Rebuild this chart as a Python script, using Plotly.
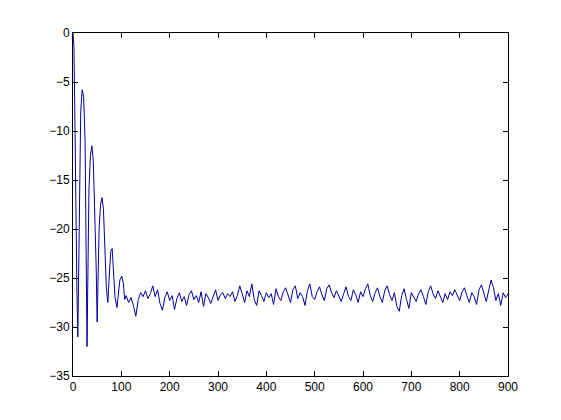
import plotly.graph_objects as go

x_main = [0, 2, 4, 6, 8, 10, 12, 14, 16, 19, 22, 25, 27, 29, 31, 33, 36, 39, 42, 45, 48, 50, 52, 54, 57, 60, 63, 66, 69, 72, 75, 78, 81, 84, 87, 91, 94, 97, 101, 104, 107, 110]
y_main = [0, -1.5, -9, -19, -26, -31, -22, -12, -8, -5.8, -6.5, -11, -20, -32, -24, -16, -12.5, -11.5, -13, -18, -24, -29.5, -25, -20, -17.5, -16.8, -18, -22, -26, -27.5, -24.5, -22.3, -22, -24, -27, -28, -26.5, -25.2, -24.8, -25.5, -27.2, -26.8]

floor_vals = [-27.5, -27.0, -27.8, -28.9, -27.2, -26.5, -26.9, -26.3, -27.1, -26.6, -25.8, -26.9, -26.2, -27.6, -28.3, -27.0, -26.4, -27.3, -26.8, -28.2, -27.1, -26.5, -27.4, -26.9, -27.8, -26.7, -26.3, -27.2, -26.8, -27.5, -26.4, -27.9, -26.6, -27.0, -27.6, -26.9, -26.2, -27.3, -26.7, -26.5, -27.1, -26.6, -26.9, -26.4, -27.4, -26.8, -25.8, -26.6, -27.5, -26.3, -26.9, -25.6, -27.2, -27.8, -26.3, -26.8, -27.4, -26.5, -27.0, -26.6, -27.7, -26.1, -26.9, -27.3, -26.4, -26.0, -26.8, -27.5, -26.2, -25.8, -27.1, -26.5, -26.9, -27.8, -26.3, -25.6, -26.9, -27.2, -26.4, -25.9, -26.7, -27.3, -26.1, -25.7, -26.5, -27.0, -26.3, -26.8, -27.4, -26.6, -25.9, -26.9, -27.3, -26.2, -26.7, -27.5, -26.4, -26.9, -26.1, -25.6, -26.8, -27.4, -26.5, -26.0, -26.9, -27.5, -26.3, -25.8, -26.7, -27.3, -26.5, -27.9, -28.4, -26.8, -26.1, -27.2, -28.1, -26.5, -26.9, -27.4, -26.6, -26.2, -26.9, -27.7, -26.4, -25.8, -26.6, -27.1, -26.3, -26.9, -27.5, -26.6, -27.2, -26.4, -26.8, -26.2, -26.7, -27.3, -26.4, -26.0, -26.8, -27.5, -26.5, -26.9, -27.7, -26.2, -25.7, -26.6, -27.4, -26.3, -25.2, -26.0, -27.3, -26.6, -27.8, -26.5, -27.0, -26.6]
x_floor = [115 + 5 * i for i in range(len(floor_vals))]

x_all = x_main + x_floor
y_all = y_main + floor_vals

x_ticks = [0, 100, 200, 300, 400, 500, 600, 700, 800, 900]
y_ticks = [0, -5, -10, -15, -20, -25, -30, -35]

fig = go.Figure(go.Scatter(x=x_all, y=y_all, mode="lines",
                           line=dict(color="#0000a0", width=1)))
ax = dict(showgrid=False, zeroline=False, showline=True, linecolor="black",
          linewidth=1, mirror="ticks", ticks="inside", ticklen=5,
          tickcolor="black", tickfont=dict(family="Liberation Sans", size=12, color="black"))
fig.update_xaxes(range=[0, 900], tickvals=x_ticks, **ax)
fig.update_yaxes(range=[-35, 0], tickvals=y_ticks, **ax)
fig.update_layout(width=561, height=420, plot_bgcolor="white", paper_bgcolor="white",
                  showlegend=False, margin=dict(l=65, r=61, t=25, b=52))
fig.write_html("out.html")
